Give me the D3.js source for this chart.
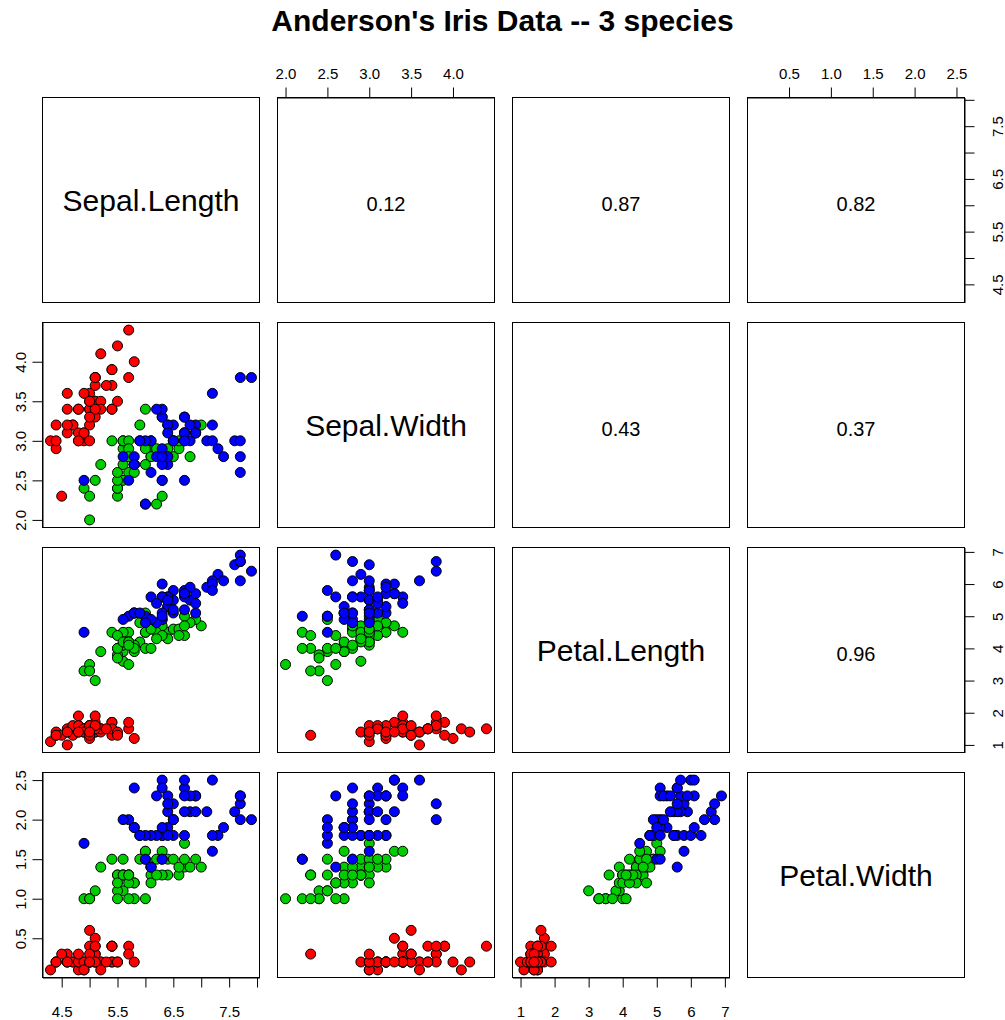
<!DOCTYPE html>
<html>
<head>
<meta charset="utf-8">
<script src="https://cdn.jsdelivr.net/npm/d3@7"></script>
<style>
  html, body { margin: 0; padding: 0; background: #fff; }
  svg { display: block; font-family: "Liberation Sans", Arial, Helvetica, sans-serif; }
</style>
</head>
<body>
<svg id="chart" width="1005" height="1020"></svg>
<script>
// Edgar Anderson's iris measurements (cm), 50 flowers per species
const varNames = ["Sepal.Length", "Sepal.Width", "Petal.Length", "Petal.Width"];
const speciesNames = ["setosa", "versicolor", "virginica"];
const speciesColors = ["#FF0000", "#00CD00", "#0000FF"];

const sepalLength = [
  5.1,4.9,4.7,4.6,5.0,5.4,4.6,5.0,4.4,4.9,5.4,4.8,4.8,4.3,5.8,5.7,5.4,5.1,5.7,5.1,5.4,5.1,4.6,5.1,4.8,5.0,5.0,5.2,5.2,4.7,4.8,5.4,5.2,5.5,4.9,5.0,5.5,4.9,4.4,5.1,5.0,4.5,4.4,5.0,5.1,4.8,5.1,4.6,5.3,5.0,
  7.0,6.4,6.9,5.5,6.5,5.7,6.3,4.9,6.6,5.2,5.0,5.9,6.0,6.1,5.6,6.7,5.6,5.8,6.2,5.6,5.9,6.1,6.3,6.1,6.4,6.6,6.8,6.7,6.0,5.7,5.5,5.5,5.8,6.0,5.4,6.0,6.7,6.3,5.6,5.5,5.5,6.1,5.8,5.0,5.6,5.7,5.7,6.2,5.1,5.7,
  6.3,5.8,7.1,6.3,6.5,7.6,4.9,7.3,6.7,7.2,6.5,6.4,6.8,5.7,5.8,6.4,6.5,7.7,7.7,6.0,6.9,5.6,7.7,6.3,6.7,7.2,6.2,6.1,6.4,7.2,7.4,7.9,6.4,6.3,6.1,7.7,6.3,6.4,6.0,6.9,6.7,6.9,5.8,6.8,6.7,6.7,6.3,6.5,6.2,5.9
];
const sepalWidth = [
  3.5,3.0,3.2,3.1,3.6,3.9,3.4,3.4,2.9,3.1,3.7,3.4,3.0,3.0,4.0,4.4,3.9,3.5,3.8,3.8,3.4,3.7,3.6,3.3,3.4,3.0,3.4,3.5,3.4,3.2,3.1,3.4,4.1,4.2,3.1,3.2,3.5,3.6,3.0,3.4,3.5,2.3,3.2,3.5,3.8,3.0,3.8,3.2,3.7,3.3,
  3.2,3.2,3.1,2.3,2.8,2.8,3.3,2.4,2.9,2.7,2.0,3.0,2.2,2.9,2.9,3.1,3.0,2.7,2.2,2.5,3.2,2.8,2.5,2.8,2.9,3.0,2.8,3.0,2.9,2.6,2.4,2.4,2.7,2.7,3.0,3.4,3.1,2.3,3.0,2.5,2.6,3.0,2.6,2.3,2.7,3.0,2.9,2.9,2.5,2.8,
  3.3,2.7,3.0,2.9,3.0,3.0,2.5,2.9,2.5,3.6,3.2,2.7,3.0,2.5,2.8,3.2,3.0,3.8,2.6,2.2,3.2,2.8,2.8,2.7,3.3,3.2,2.8,3.0,2.8,3.0,2.8,3.8,2.8,2.8,2.6,3.0,3.4,3.1,3.0,3.1,3.1,3.1,2.7,3.2,3.3,3.0,2.5,3.0,3.4,3.0
];
const petalLength = [
  1.4,1.4,1.3,1.5,1.4,1.7,1.4,1.5,1.4,1.5,1.5,1.6,1.4,1.1,1.2,1.5,1.3,1.4,1.7,1.5,1.7,1.5,1.0,1.7,1.9,1.6,1.6,1.5,1.4,1.6,1.6,1.5,1.5,1.4,1.5,1.2,1.3,1.4,1.3,1.5,1.3,1.3,1.3,1.6,1.9,1.4,1.6,1.4,1.5,1.4,
  4.7,4.5,4.9,4.0,4.6,4.5,4.7,3.3,4.6,3.9,3.5,4.2,4.0,4.7,3.6,4.4,4.5,4.1,4.5,3.9,4.8,4.0,4.9,4.7,4.3,4.4,4.8,5.0,4.5,3.5,3.8,3.7,3.9,5.1,4.5,4.5,4.7,4.4,4.1,4.0,4.4,4.6,4.0,3.3,4.2,4.2,4.2,4.3,3.0,4.1,
  6.0,5.1,5.9,5.6,5.8,6.6,4.5,6.3,5.8,6.1,5.1,5.3,5.5,5.0,5.1,5.3,5.5,6.7,6.9,5.0,5.7,4.9,6.7,4.9,5.7,6.0,4.8,4.9,5.6,5.8,6.1,6.4,5.6,5.1,5.6,6.1,5.6,5.5,4.8,5.4,5.6,5.1,5.1,5.9,5.7,5.2,5.0,5.2,5.4,5.1
];
const petalWidth = [
  0.2,0.2,0.2,0.2,0.2,0.4,0.3,0.2,0.2,0.1,0.2,0.2,0.1,0.1,0.2,0.4,0.4,0.3,0.3,0.3,0.2,0.4,0.2,0.5,0.2,0.2,0.4,0.2,0.2,0.2,0.2,0.4,0.1,0.2,0.2,0.2,0.2,0.1,0.2,0.2,0.3,0.3,0.2,0.6,0.4,0.3,0.2,0.2,0.2,0.2,
  1.4,1.5,1.5,1.3,1.5,1.3,1.6,1.0,1.3,1.4,1.0,1.5,1.0,1.4,1.3,1.4,1.5,1.0,1.5,1.1,1.8,1.3,1.5,1.2,1.3,1.4,1.4,1.7,1.5,1.0,1.1,1.0,1.2,1.6,1.5,1.6,1.5,1.3,1.3,1.3,1.2,1.4,1.2,1.0,1.3,1.2,1.3,1.3,1.1,1.3,
  2.5,1.9,2.1,1.8,2.2,2.1,1.7,1.8,1.8,2.5,2.0,1.9,2.1,2.0,2.4,2.3,1.8,2.2,2.3,1.5,2.3,2.0,2.0,1.8,2.1,1.8,1.8,1.8,2.1,1.6,1.9,2.0,2.2,1.5,1.4,2.3,2.4,1.8,1.8,2.1,2.4,2.3,1.9,2.3,2.5,2.3,1.9,2.0,2.3,1.8
];
const speciesIndex = d3.range(150).map(i => Math.floor(i / 50));

// Tick values and which of them carry a label, per variable
const tickValues = [
  [4.5, 5.0, 5.5, 6.0, 6.5, 7.0, 7.5, 8.0],
  [2.0, 2.5, 3.0, 3.5, 4.0],
  [1, 2, 3, 4, 5, 6, 7],
  [0.5, 1.0, 1.5, 2.0, 2.5]
];
const tickLabels = [
  ["4.5", "", "5.5", "", "6.5", "", "7.5", ""],
  ["2.0", "2.5", "3.0", "3.5", "4.0"],
  ["1", "2", "3", "4", "5", "6", "7"],
  ["0.5", "1.0", "1.5", "2.0", "2.5"]
];

const title = "Anderson's Iris Data -- 3 species";

// ---- layout ----
const columns = [sepalLength, sepalWidth, petalLength, petalWidth];
const n = varNames.length;
const cellW = 217, cellH = 205;
const left0 = 42.5, top0 = 97.5, stepX = 235, stepY = 225;
const tickLen = 10;
const pointR = 5;

const svg = d3.select("#chart");

svg.append("text")
  .attr("x", 502.5).attr("y", 31)
  .attr("text-anchor", "middle")
  .attr("font-size", 30).attr("font-weight", "bold")
  .text(title);

// data range padded by 4% on each side
function paddedDomain(values) {
  const [lo, hi] = d3.extent(values);
  const pad = (hi - lo) * 0.04;
  return [lo - pad, hi + pad];
}
const xScales = columns.map((v, k) => d3.scaleLinear().domain(paddedDomain(v))
  .range([left0 + k * stepX, left0 + k * stepX + cellW]));
const yScales = columns.map((v, k) => d3.scaleLinear().domain(paddedDomain(v))
  .range([top0 + k * stepY + cellH, top0 + k * stepY]));

function corr(a, b) {
  const ma = d3.mean(a), mb = d3.mean(b);
  let sab = 0, saa = 0, sbb = 0;
  for (let i = 0; i < a.length; i++) {
    const da = a[i] - ma, db = b[i] - mb;
    sab += da * db; saa += da * da; sbb += db * db;
  }
  return sab / Math.sqrt(saa * sbb);
}

for (let row = 0; row < n; row++) {
  for (let col = 0; col < n; col++) {
    const x0 = left0 + col * stepX, y0 = top0 + row * stepY;
    const cx = x0 + cellW / 2, cy = y0 + cellH / 2;
    const g = svg.append("g");

    if (row === col) {
      g.append("text")
        .attr("x", cx).attr("y", cy + 11)
        .attr("text-anchor", "middle")
        .attr("font-size", 30)
        .text(varNames[row]);
    } else if (col > row) {
      const r = Math.abs(corr(columns[col], columns[row]));
      g.append("text")
        .attr("x", cx).attr("y", cy + 11)
        .attr("text-anchor", "middle")
        .attr("font-size", 20)
        .text(d3.format(".2f")(r));
    } else {
      const xs = xScales[col], ys = yScales[row];
      g.selectAll("circle")
        .data(d3.range(150))
        .join("circle")
        .attr("cx", i => xs(columns[col][i]))
        .attr("cy", i => ys(columns[row][i]))
        .attr("r", pointR)
        .attr("fill", i => speciesColors[speciesIndex[i]])
        .attr("stroke", "#000")
        .attr("stroke-width", 1);
    }

    g.append("rect")
      .attr("x", x0).attr("y", y0)
      .attr("width", cellW).attr("height", cellH)
      .attr("fill", "none")
      .attr("stroke", "#000")
      .attr("stroke-width", 1);
  }
}

// ---- axes on alternating sides, R pairs() style ----
function styleAxis(sel) {
  sel.selectAll("line").attr("stroke", "#000");
  sel.selectAll("path").attr("stroke", "#000");
  sel.selectAll("text").attr("fill", "#000").attr("font-size", 15)
    .attr("font-family", "'Liberation Sans', Arial, sans-serif");
}
function labelFor(k) {
  return d => tickLabels[k][tickValues[k].indexOf(d)];
}

for (let k = 0; k < n; k++) {
  if (k % 2 === 1) {
    // top axis, first row
    const ax = svg.append("g").attr("transform", `translate(0,${top0})`)
      .call(d3.axisTop(xScales[k]).tickValues(tickValues[k]).tickFormat(labelFor(k))
        .tickSize(tickLen).tickSizeOuter(0));
    styleAxis(ax);
    ax.selectAll("text").attr("y", -19).attr("dy", null);
  } else {
    // bottom axis, last row
    const yb = top0 + (n - 1) * stepY + cellH;
    const ax = svg.append("g").attr("transform", `translate(0,${yb})`)
      .call(d3.axisBottom(xScales[k]).tickValues(tickValues[k]).tickFormat(labelFor(k))
        .tickSize(tickLen).tickSizeOuter(0));
    styleAxis(ax);
    ax.selectAll("text").attr("y", 39).attr("dy", null);
  }

  if (k % 2 === 1) {
    // left axis, first column
    const ax = svg.append("g").attr("transform", `translate(${left0},0)`)
      .call(d3.axisLeft(yScales[k]).tickValues(tickValues[k]).tickFormat(labelFor(k))
        .tickSize(tickLen).tickSizeOuter(0));
    styleAxis(ax);
    ax.selectAll("text")
      .attr("x", null).attr("dy", null)
      .attr("text-anchor", "middle")
      .attr("transform", "translate(-17,0) rotate(-90)");
  } else {
    // right axis, last column
    const xr = left0 + (n - 1) * stepX + cellW;
    const ax = svg.append("g").attr("transform", `translate(${xr},0)`)
      .call(d3.axisRight(yScales[k]).tickValues(tickValues[k]).tickFormat(labelFor(k))
        .tickSize(tickLen).tickSizeOuter(0));
    styleAxis(ax);
    ax.selectAll("text")
      .attr("x", null).attr("dy", null)
      .attr("text-anchor", "middle")
      .attr("transform", "translate(38.5,0) rotate(-90)");
  }
}
</script>
</body>
</html>
